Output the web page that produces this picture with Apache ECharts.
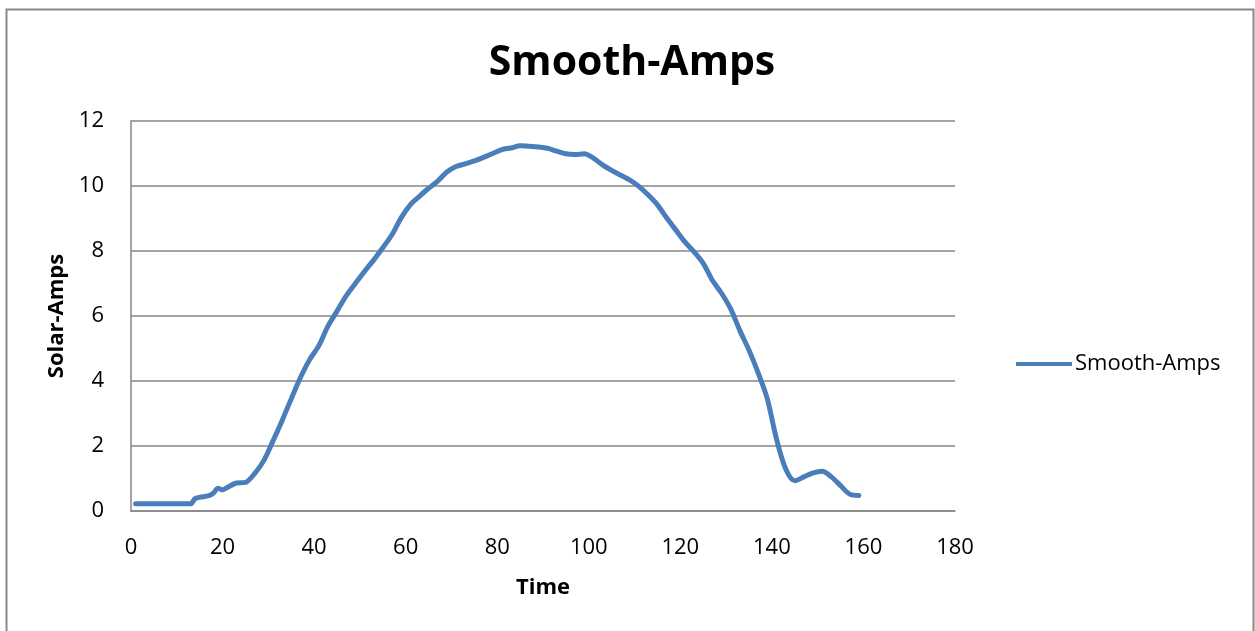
<!DOCTYPE html>
<html>
<head>
<meta charset="utf-8">
<script src="https://cdn.jsdelivr.net/npm/echarts@6/dist/echarts.min.js"></script>
<style>
  html, body { margin: 0; padding: 0; background: #fff; }
  #chart { width: 1255px; height: 631px; }
</style>
</head>
<body>
<div id="chart"></div>
<script>
// Solar panel current, smoothed, over the sampling period
const chartTitle = 'Smooth-Amps';
const seriesName = 'Smooth-Amps';
const xAxisName = 'Time';
const yAxisName = 'Solar-Amps';

const time = [
  1, 3, 5, 7, 9, 11, 13, 14, 15, 17, 18, 19, 20, 21, 23, 25, 27, 29, 31, 33,
  35, 37, 39, 41, 43, 45, 47, 49, 51, 53, 55, 57, 59, 61, 63, 65, 67, 69, 71, 73,
  75, 77, 79, 81, 83, 85, 87, 89, 91, 93, 95, 97, 99, 101, 103, 105, 107, 109, 111, 113,
  115, 117, 119, 121, 123, 125, 127, 129, 131, 133, 135, 137, 139, 141, 143, 145, 147, 149, 151, 153,
  155, 157, 159
];
const amps = [
  0.22, 0.22, 0.22, 0.22, 0.22, 0.22, 0.22, 0.38, 0.42, 0.47, 0.55, 0.70, 0.65, 0.72, 0.86, 0.88, 1.15, 1.55, 2.15, 2.78,
  3.45, 4.10, 4.65, 5.08, 5.68, 6.15, 6.62, 7.00, 7.37, 7.72, 8.10, 8.50, 9.02, 9.42, 9.68, 9.93, 10.15, 10.43, 10.60, 10.68,
  10.77, 10.88, 11.00, 11.12, 11.17, 11.24, 11.22, 11.20, 11.16, 11.07, 10.99, 10.97, 10.99, 10.86, 10.65, 10.48, 10.33, 10.18, 9.98, 9.72,
  9.42, 9.02, 8.65, 8.28, 7.97, 7.62, 7.10, 6.70, 6.22, 5.55, 4.95, 4.25, 3.45, 2.22, 1.30, 0.93, 1.05, 1.17, 1.22, 1.05,
  0.78, 0.52, 0.48
];

const xTicks = { min: 0, max: 180, interval: 20 };
const yTicks = { min: 0, max: 12, interval: 2 };

const points = time.map((t, i) => [t, amps[i]]);

const font = "'Open Sans', 'Liberation Sans', sans-serif";
const gridColor = '#868686';
const lineColor = '#4a7ebb';

const chart = echarts.init(document.getElementById('chart'), null, { renderer: 'canvas' });
chart.setOption({
  animation: false,
  backgroundColor: '#ffffff',
  title: {
    text: chartTitle,
    left: 627,
    top: 38,
    textAlign: 'center',
    textStyle: { fontFamily: font, fontWeight: 'bold', fontSize: 41, color: '#000' }
  },
  graphic: [{
    type: 'rect',
    shape: { x: 6.5, y: 9.5, width: 1247, height: 640 },
    style: { fill: 'none', stroke: '#888888', lineWidth: 2 },
    silent: true
  }],
  legend: {
    data: [seriesName],
    left: 1011,
    top: 348,
    icon: 'rect',
    itemWidth: 56,
    itemHeight: 4,
    itemGap: 0,
    textStyle: { fontFamily: font, fontSize: 22, color: '#000', padding: [0, 0, 0, -2] }
  },
  grid: { left: 131, right: 300, top: 121, bottom: 120, containLabel: false },
  xAxis: {
    type: 'value',
    min: xTicks.min,
    max: xTicks.max,
    interval: xTicks.interval,
    name: xAxisName,
    nameLocation: 'middle',
    nameGap: 66,
    nameTextStyle: { fontFamily: font, fontWeight: 'bold', fontSize: 22, color: '#000' },
    axisLine: { show: true, lineStyle: { color: gridColor, width: 1.5 } },
    axisTick: { show: false },
    splitLine: { show: false },
    axisLabel: { margin: 26, fontFamily: font, fontSize: 22, color: '#000' }
  },
  yAxis: {
    type: 'value',
    min: yTicks.min,
    max: yTicks.max,
    interval: yTicks.interval,
    name: yAxisName,
    nameLocation: 'middle',
    nameGap: 63,
    nameRotate: 90,
    nameTextStyle: { fontFamily: font, fontWeight: 'bold', fontSize: 22, color: '#000' },
    axisLine: { show: true, lineStyle: { color: gridColor, width: 1.5 } },
    axisTick: { show: false },
    splitLine: { show: true, lineStyle: { color: gridColor, width: 1.5 } },
    axisLabel: { margin: 27, fontFamily: font, fontSize: 22, color: '#000' }
  },
  series: [{
    name: seriesName,
    type: 'line',
    data: points,
    smooth: 0.3,
    showSymbol: false,
    symbol: 'none',
    lineStyle: { color: lineColor, width: 5, cap: 'round', join: 'round' },
    itemStyle: { color: lineColor }
  }]
});
</script>
</body>
</html>
